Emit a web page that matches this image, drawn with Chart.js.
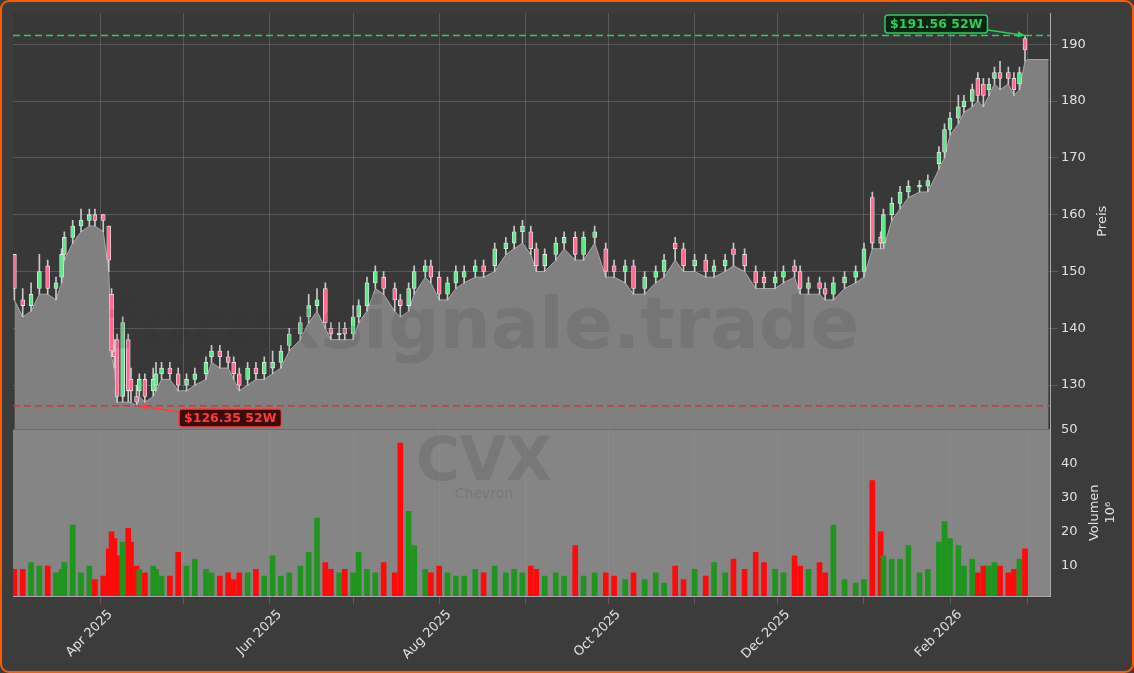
<!DOCTYPE html>
<html><head><meta charset="utf-8">
<script src="https://cdn.jsdelivr.net/npm/chart.js@4.4.1/dist/chart.umd.min.js"></script>
<style>html,body{margin:0;padding:0;background:#3c3c3c}#wrap{position:absolute;left:0;top:0;width:1130px;height:669px;border:2px solid #ff5a00;border-radius:9px;background:#3c3c3c;overflow:hidden}</style>
</head><body><div id="wrap"><canvas id="c" width="1130" height="669"></canvas></div>
<script>
const days=[0,3,6,9,12,15,17,18,21,24,27,29,32,34,35,36,37,39,41,42,44,45,47,50,51,53,56,59,62,65,69,71,74,77,79,81,84,87,90,93,96,99,103,106,109,112,114,117,119,122,124,127,130,133,137,139,142,144,148,150,153,156,159,162,166,169,173,177,180,183,186,188,191,195,198,202,205,209,213,216,220,223,227,231,234,238,241,245,249,252,256,259,263,267,270,274,277,281,283,286,290,292,295,299,303,306,309,312,313,316,319,322,326,329,333,335,337,340,342,345,347,349,351,353,355,358,360,362,364];
const opens=[153,145,144,147,151,147,149,153,156,158,159,160,160,158,146,136,138,128,138,131,128,129,131,129,130,132,133,132,130,131,132,135,136,135,134,132,131,133,132,133,134,137,139,142,144,147,140,139,140,139,142,144,148,149,147,145,144,147,150,151,149,146,148,149,150,151,151,154,155,157,157,154,151,153,155,156,153,156,154,151,150,151,147,149,150,155,154,151,152,150,151,154,153,150,149,148,149,151,150,147,148,147,146,148,149,150,163,156,155,160,162,164,165,165,169,171,175,177,179,180,184,183,182,184,185,185,184,183,191];
const closes=[147,144,146,150,147,148,153,156,158,159,160,159,159,152,136,135,128,141,129,129,127,131,128,131,132,133,132,130,131,132,134,136,135,134,132,130,133,132,134,134,136,139,141,144,145,141,139,139,139,142,144,148,150,147,145,144,147,150,151,149,146,148,150,150,151,150,154,155,157,158,154,151,153,155,156,153,156,157,150,150,151,147,149,150,152,154,151,152,150,151,152,153,151,148,148,149,150,150,147,148,147,146,148,149,150,154,155,155,160,162,164,165,165,166,171,175,177,179,180,182,181,181,183,185,184,184,182,185,189];
const highs=[153,147,148,153,152,149,154,157,159,161,161,161,160,158,147,138,139,142,139,133,130,132,132,133,134,134,134,133,132,133,135,137,137,136,135,133,134,134,135,136,137,140,142,146,147,148,141,141,141,144,145,149,151,150,148,146,148,151,152,152,150,149,151,151,152,152,155,156,158,159,158,155,154,156,157,157,157,158,155,152,152,152,150,151,153,156,155,153,153,152,153,155,154,151,150,150,151,152,151,149,149,148,149,150,151,155,164,157,161,163,165,166,166,167,172,176,178,181,181,183,185,184,184,186,187,186,185,186,191.56];
const lows=[145,142,143,146,146,145,148,152,155,157,158,158,157,150,135,133,127,127,127,127,126.35,128,127,128,129,131,131,129,129,130,131,134,133,133,131,129,130,131,131,132,133,136,138,141,143,140,138,138,138,138,141,143,147,146,143,142,143,146,149,148,145,145,147,148,149,149,150,153,154,155,153,150,150,152,154,152,152,155,149,149,148,146,146,148,149,152,150,150,149,149,150,151,150,147,147,147,148,149,146,146,146,145,145,147,148,149,154,154,154,159,161,163,164,164,168,170,174,176,178,179,180,179,181,183,182,183,181,182,187];
const volumes=[9,9,11,10,10,8,9,11,22,8,10,6,7,15,20,18,13,17,21,17,10,9,8,10,9,7,7,14,10,12,9,8,7,8,6,8,8,9,7,13,7,8,10,14,24,11,9,8,9,8,14,9,8,11,8,46,26,16,9,8,10,8,7,7,9,8,10,8,9,8,10,9,7,8,7,16,7,8,8,7,6,8,6,8,5,10,6,9,7,11,8,12,9,14,11,9,8,13,10,9,11,8,22,6,5,6,35,20,13,12,12,16,8,9,17,23,18,16,10,12,8,10,10,11,10,8,9,12,15];
const monthDays=[31,61,92,122,153,184,214,245,275,306,337,365];
const monthLabels={31:'Apr 2025',92:'Jun 2025',153:'Aug 2025',214:'Oct 2025',275:'Dec 2025',337:'Feb 2026'};
const priceTicks=[130,140,150,160,170,180,190];
const volTicks=[10,20,30,40,50];
const hi52=191.56, lo52=126.35, lastClose=187.3;

const up=i=>closes[i]>=opens[i];
const bodies=days.map((d,i)=>{let a=Math.min(opens[i],closes[i]),b=Math.max(opens[i],closes[i]);if(b-a<0.3){a-=0.15;b+=0.15;}return {x:d,y:[a,b]};});
const wicks=days.map((d,i)=>({x:d,y:[lows[i],highs[i]]}));
const area=days.map((d,i)=>({x:d,y:lows[i]}));
area.push({x:365,y:lastClose},{x:372.5,y:lastClose});
const vols=days.map((d,i)=>({x:d,y:volumes[i]}));
const tickFont={family:'DejaVu Sans',size:13};

const bg={id:'bg',beforeDraw(ch){const {ctx,chartArea:a,scales}=ch;const yb=scales.y.bottom;ctx.save();ctx.fillStyle='#383838';ctx.fillRect(a.left,a.top,a.right-a.left,yb-a.top);ctx.fillStyle='#858585';ctx.fillRect(a.left,yb,a.right-a.left,a.bottom-yb);ctx.restore();},
 afterDatasetsDraw(ch){const {ctx,chartArea:a,scales}=ch;const y=scales.y,x=scales.x;ctx.save();
  ctx.textAlign='center';ctx.textBaseline='middle';ctx.fillStyle='rgba(50,50,50,0.14)';ctx.font='bold 72px DejaVu Sans';ctx.fillText('forexsignale.trade',482,327);ctx.font='bold 60px DejaVu Sans';ctx.fillStyle='rgba(100,100,100,0.4)';ctx.fillText('CVX',482,462);ctx.font='14px DejaVu Sans';ctx.fillText('Chevron',482,492);
  ctx.textAlign='left';
  const yh=y.getPixelForValue(hi52),yl=y.getPixelForValue(lo52);
  ctx.setLineDash([7,4]);ctx.lineWidth=1.5;
  ctx.strokeStyle='#2ecc5a';ctx.beginPath();ctx.moveTo(a.left,yh);ctx.lineTo(a.right,yh);ctx.stroke();
  ctx.strokeStyle='#e03030';ctx.beginPath();ctx.moveTo(a.left,yl);ctx.lineTo(a.right,yl);ctx.stroke();
  ctx.setLineDash([]);
  function label(txt,bx,by,fg,bgc,ax0,ay0,ax1,ay1){ctx.font='bold 12.5px DejaVu Sans';const w=ctx.measureText(txt).width+10;ctx.strokeStyle=fg;ctx.lineWidth=1.5;ctx.beginPath();ctx.moveTo(ax0,ay0);ctx.lineTo(ax1,ay1);ctx.stroke();const ang=Math.atan2(ay1-ay0,ax1-ax0);ctx.fillStyle=fg;ctx.beginPath();ctx.moveTo(ax1,ay1);ctx.lineTo(ax1-8*Math.cos(ang-0.4),ay1-8*Math.sin(ang-0.4));ctx.lineTo(ax1-8*Math.cos(ang+0.4),ay1-8*Math.sin(ang+0.4));ctx.fill();ctx.fillStyle=bgc;ctx.beginPath();ctx.roundRect(bx,by,w,18,3);ctx.fill();ctx.stroke();ctx.fillStyle=fg;ctx.textBaseline='middle';ctx.fillText(txt,bx+5,by+9.5);}
  const xh=x.getPixelForValue(364),xl=x.getPixelForValue(44);
  label('$191.56 52W',883,13,'#2ecc5a','#0b2413',979,27,xh,yh);
  label('$126.35 52W',177,407,'#ff3b3b','#3a0c0c',177,410,xl+3,yl);
  ctx.fillStyle='#e0e0e0';ctx.font='13px DejaVu Sans';ctx.textAlign='center';
  ctx.save();ctx.translate(1101,(y.top+y.bottom)/2);ctx.rotate(-Math.PI/2);ctx.fillText('Preis',0,0);ctx.restore();
  const yv=scales.yv;ctx.save();ctx.translate(1093,(yv.top+yv.bottom)/2);ctx.rotate(-Math.PI/2);ctx.fillText('Volumen',0,0);ctx.fillText('10⁶',0,16);ctx.restore();
  ctx.restore();}};

new Chart(document.getElementById('c'),{
 data:{datasets:[
  {type:'line',data:area,xAxisID:'x',yAxisID:'y',borderColor:'#a8a8a8',borderWidth:1,backgroundColor:'#808080',fill:'start',pointRadius:0,tension:0,order:5},
  {type:'bar',data:wicks,xAxisID:'x',yAxisID:'y',backgroundColor:'#c8c8c8',barThickness:1,grouped:false,order:3},
  {type:'bar',data:bodies,xAxisID:'x',yAxisID:'y',backgroundColor:days.map((d,i)=>up(i)?'#5ee88a':'#ff6a90'),borderColor:'#e8e8e8',borderWidth:0.8,borderSkipped:false,barThickness:4,grouped:false,order:2},
  {type:'bar',data:vols,xAxisID:'x',yAxisID:'yv',backgroundColor:days.map((d,i)=>up(i)?'#1f951f':'#ff0a0a'),barThickness:5,grouped:false,order:4}
 ]},
 options:{responsive:false,animation:false,
  layout:{padding:{left:11,top:11,right:12,bottom:8}},
  plugins:{legend:{display:false},tooltip:{enabled:false}},
  scales:{
   x:{type:'linear',min:-0.5,max:373,offset:false,grid:{color:'rgba(150,150,150,0.35)',offset:false},border:{color:'#aaa'},
      afterBuildTicks(s){s.ticks=monthDays.map(v=>({value:v}));},
      afterFit(s){s.height=67;},
      ticks:{color:'#e0e0e0',font:tickFont,maxRotation:45,minRotation:45,autoSkip:false,labelOffset:10,callback:v=>monthLabels[v]||''}},
   y:{position:'right',stack:'s',stackWeight:415,min:122.2,max:195.5,offset:false,
      afterBuildTicks(s){s.ticks=priceTicks.map(v=>({value:v}));},
      afterFit(s){s.width=70;},
      grid:{color:'rgba(150,150,150,0.35)'},border:{color:'#aaa'},
      ticks:{color:'#e0e0e0',font:tickFont}},
   yv:{position:'right',stack:'s',stackWeight:166,min:1.2,max:50,offset:false,
      afterBuildTicks(s){s.ticks=volTicks.map(v=>({value:v}));},
      afterFit(s){s.width=70;},
      grid:{display:false},border:{color:'#aaa'},
      ticks:{color:'#e0e0e0',font:tickFont}}
  }},
 plugins:[bg]});
</script></body></html>
